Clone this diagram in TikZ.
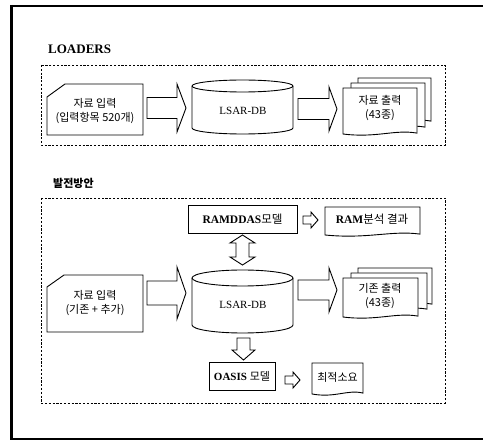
\documentclass[tikz,border=0pt]{standalone}
\usepackage{fontspec}
\setmainfont{Liberation Serif}
\newfontfamily\kr{Noto Sans CJK KR}
\tikzset{
  blk/.style={draw=black, line width=0.9pt, fill=white, line join=miter},
  dashbox/.style={draw=black, line width=0.8pt, dash pattern=on 2.2pt off 1.6pt},
  shapebox/.style={draw=black, line width=0.9pt, fill=white},
  txt/.style={inner sep=0pt, align=center, font=\fontsize{11}{14}\selectfont},
}
\newcommand{\rarrow}[6]{\draw[blk] (#1,{#4-#5}) -- (#2,{#4-#5}) -- (#2,{#4-#6}) -- (#3,#4) -- (#2,{#4+#6}) -- (#2,{#4+#5}) -- (#1,{#4+#5}) -- cycle;}
\newcommand{\docshape}[5]{\draw[shapebox] (#1,#2) -- (#3,#2) -- (#3,{#4-#5*0.3}) .. controls ({#3-0.3*(#3-#1)},{#4-1.6*#5}) and ({#1+0.45*(#3-#1)},{#4+1.4*#5}) .. (#1,#4) -- cycle;}
\newcommand{\cylshape}[5]{% x1 x2 ytop ybot ry
  \draw[shapebox] (#1,{#3+#5}) -- (#1,{#4-#5}) arc (180:360:{(#2-#1)/2*1pt} and #5pt) -- (#2,{#3+#5}) arc (0:180:{(#2-#1)/2*1pt} and #5pt) -- cycle;
  \draw[shapebox, fill=none] (#1,{#3+#5}) arc (180:360:{(#2-#1)/2*1pt} and #5pt);}
\begin{document}
\begin{tikzpicture}[x=1pt,y=-1pt]
\useasboundingbox (0,0) rectangle (483,441);
% outer frame
\draw[line width=2pt] (483,6) -- (11,6);
\draw[line width=2pt] (11,439) -- (483,439);
\draw[line width=3pt] (11,5) -- (11,440);

% ===== LOADERS =====
\node[font=\fontsize{13}{15}\selectfont\bfseries, anchor=west, inner sep=0pt] (t1) at (48,49) {LOADERS};
\draw[dashbox] (41,65) rectangle (445,145);

\draw[shapebox] (47,97) -- (65,84) -- (143,84) -- (143,135) -- (47,135) -- cycle;
\node[txt] (in1) at (95,111) {{\kr 자료 입력}\\{\kr (입력항목 520개)}};

\rarrow{147}{177}{186}{108}{10.5}{24}

\cylshape{192}{293}{80}{134}{6}
\node[txt, font=\fontsize{11}{13}\selectfont] (db1) at (243,111) {LSAR-DB};

\rarrow{298}{329}{337}{109}{10.5}{22}

\docshape{358}{78}{431}{122}{3}
\docshape{351}{83}{425}{128}{3}
\docshape{343}{88}{417}{134}{3}
\node[txt] (out1) at (380,108) {{\kr 자료 출력}\\{\kr (43종)}};

% ===== 발전방안 =====
\node[font=\fontsize{11}{13}\selectfont\kr\bfseries, anchor=west, inner sep=0pt] (t2) at (53,183) {발전방안};
\draw[dashbox] (41,198) rectangle (445,403);

\draw[shapebox] (188,205) rectangle (297,233);
\node[txt, font=\fontsize{11.5}{13}\selectfont\bfseries] (ram) at (242.5,219) {RAMDDAS{\kr\mdseries 모델}};

\rarrow{303}{311}{318}{220}{4}{8}

\docshape{325}{207}{420}{235}{3}
\node[txt, font=\fontsize{11.5}{13}\selectfont\bfseries] (ramres) at (372,219) {RAM{\kr\mdseries 분석 결과}};

% vertical double arrow
\draw[blk] (242.5,235) -- (255,243) -- (249,243) -- (249,257) -- (255,257) -- (242.5,265) -- (230,257) -- (236,257) -- (236,243) -- (230,243) -- cycle;

\draw[shapebox] (47,287) -- (64,275) -- (143,275) -- (143,332) -- (47,332) -- cycle;
\node[txt] (in2) at (95,303) {{\kr 자료 입력}\\{\kr (기존 + 추가)}};

\rarrow{147}{177}{186}{293}{12}{26}

\cylshape{192}{293}{270}{333}{8}
\node[txt, font=\fontsize{11}{13}\selectfont] (db2) at (243,305) {LSAR-DB};

\rarrow{298}{329}{337}{290}{10}{22}

\docshape{358}{268}{432}{305}{3}
\docshape{351}{273}{427}{310}{3}
\docshape{343}{278}{418}{317}{3}
\node[txt] (out2) at (380,296) {{\kr 기존 출력}\\{\kr (43종)}};

% down arrow
\draw[blk] (237,338) -- (250,338) -- (250,350) -- (255,350) -- (243.5,360) -- (232,350) -- (237,350) -- cycle;

\draw[shapebox] (209,362) rectangle (275,390);
\node[txt, font=\fontsize{11}{13}\selectfont\bfseries] (oasis) at (242,376) {OASIS {\kr\mdseries 모델}};

\rarrow{285}{293}{300}{380}{4}{8}

\docshape{312}{363}{363}{394}{3}
\node[txt] (req) at (337.5,377) {{\kr 최적소요}};
\end{tikzpicture}
\end{document}
